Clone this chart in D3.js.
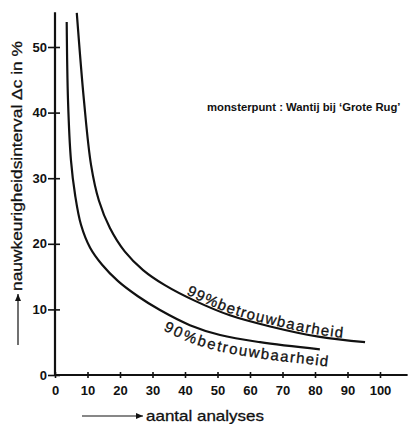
<!DOCTYPE html>
<html>
<head>
  <meta charset="utf-8">
  <title>Nauwkeurigheidsinterval</title>
  <style>
    body { margin: 0; background: #fff; }
    svg { display: block; font-family: "Liberation Sans", Arial, sans-serif; }
    .tick text { font-weight: bold; font-size: 13px; fill: #111; }
    .tick line { stroke: #111; stroke-width: 1.6; }
  </style>
</head>
<body>
  <svg id="chart"></svg>

  <script src="https://d3js.org/d3.v7.min.js"></script>
  <script>
    const curve90 = [[3.6, 53.8], [4.0, 41.9], [4.9, 32.8], [6.2, 27.4], [8.0, 22.9], [10.8, 19.4],
                     [14.5, 16.8], [19.4, 14.3], [25.5, 12.0], [32.3, 9.9], [41.5, 7.6], [50.8, 6.1],
                     [63.1, 5.0], [81.5, 3.9]];
    const curve99 = [[6.7, 55.2], [8.9, 41.9], [11.1, 32.0], [13.5, 26.6], [16.9, 22.4], [21.5, 18.8],
                     [27.1, 16.0], [33.8, 13.7], [43.1, 11.3], [53.8, 9.1], [66.2, 7.4], [81.5, 5.8],
                     [95.4, 5.0]];
    const xTicks = [0, 10, 20, 30, 40, 50, 60, 70, 80, 90, 100];
    const yTicks = [0, 10, 20, 30, 40, 50];
    const labels = ["90%betrouwbaarheid", "99%betrouwbaarheid"];

    const width = 411;
    const height = 424;

    const svg = d3.select("#chart")
      .attr("width", width)
      .attr("height", height);

    // schalen
    const x = d3.scaleLinear().domain([0, 100]).range([55, 380]);
    const y = d3.scaleLinear().domain([0, 50]).range([375, 47]);

    // assen
    svg.append("line")
      .attr("x1", x(0)).attr("x2", x(0))
      .attr("y1", y(0) + 1).attr("y2", y(55.3))
      .attr("stroke", "#111").attr("stroke-width", 2.2);
    svg.append("line")
      .attr("x1", x(0) - 1).attr("x2", x(108.5))
      .attr("y1", y(0)).attr("y2", y(0))
      .attr("stroke", "#111").attr("stroke-width", 2.2);

    const gy = svg.append("g")
      .attr("transform", `translate(${x(0)},0)`)
      .call(d3.axisLeft(y).tickValues(yTicks).tickSizeOuter(0));
    gy.select(".domain").remove();
    gy.selectAll(".tick line").attr("x1", -7).attr("x2", 5);
    gy.selectAll(".tick text").attr("x", -8);

    const gx = svg.append("g")
      .attr("transform", `translate(0,${y(0)})`)
      .call(d3.axisBottom(x).tickValues(xTicks).tickSizeOuter(0));
    gx.select(".domain").remove();
    gx.selectAll(".tick line").attr("y1", -3).attr("y2", 3);
    gx.selectAll(".tick text").attr("y", 11);

    // curves
    const line = d3.line()
      .x(d => x(d[0]))
      .y(d => y(d[1]))
      .curve(d3.curveCatmullRom.alpha(0.5));

    [curve90, curve99].forEach(c => {
      svg.append("path")
        .attr("d", line(c))
        .attr("fill", "none")
        .attr("stroke", "#111")
        .attr("stroke-width", 2.2);
    });

    // hulppaden voor de labels (curve iets doorgetrokken)
    function extend(c) {
      const a = c[c.length - 2], b = c[c.length - 1];
      return c.concat([[b[0] + (b[0] - a[0]), b[1] + (b[1] - a[1])]]);
    }
    const defs = svg.append("defs");
    const guides = [extend(curve90), extend(curve99)];
    const starts = [35.5, 40];
    const offsets = [16, -2];

    guides.forEach((g, i) => {
      const p = defs.append("path")
        .attr("id", "guide" + i)
        .attr("d", line(g));
      const node = p.node();
      // zoek lengte langs pad waar het label begint
      let lo = 0, hi = node.getTotalLength();
      for (let k = 0; k < 30; k++) {
        const mid = (lo + hi) / 2;
        if (node.getPointAtLength(mid).x < x(starts[i])) lo = mid; else hi = mid;
      }
      svg.append("text")
        .attr("dy", offsets[i])
        .style("font-size", "15px")
        .style("letter-spacing", "1.3px")
        .attr("fill", "#111")
        .attr("stroke", "#111")
        .attr("stroke-width", 0.3)
        .append("textPath")
        .attr("href", "#guide" + i)
        .attr("startOffset", lo)
        .text(labels[i]);
    });

    // annotatie
    svg.append("text")
      .attr("x", 207).attr("y", 111)
      .style("font-size", "11.3px")
      .style("font-weight", "bold")
      .attr("fill", "#111")
      .text("monsterpunt : Wantij bij \u2018Grote Rug\u2019");

    // as-titels met pijlen
    function arrow(x1, y1, x2, y2) {
      svg.append("line")
        .attr("x1", x1).attr("y1", y1).attr("x2", x2).attr("y2", y2)
        .attr("stroke", "#111").attr("stroke-width", 1.2);
      const ang = Math.atan2(y2 - y1, x2 - x1);
      const len = 7, w = 3;
      const pts = [
        [x2, y2],
        [x2 - len * Math.cos(ang) + w * Math.sin(ang), y2 - len * Math.sin(ang) - w * Math.cos(ang)],
        [x2 - len * Math.cos(ang) - w * Math.sin(ang), y2 - len * Math.sin(ang) + w * Math.cos(ang)]
      ];
      svg.append("polygon").attr("points", pts.map(p => p.join(",")).join(" ")).attr("fill", "#111");
    }

    arrow(18, 345, 18, 294);
    svg.append("text")
      .attr("transform", "translate(22,291) rotate(-90)")
      .attr("textLength", 250)
      .attr("lengthAdjust", "spacingAndGlyphs")
      .style("font-size", "15px")
      .attr("fill", "#111")
      .attr("stroke", "#111")
      .attr("stroke-width", 0.3)
      .text("nauwkeurigheidsinterval \u0394c in %");

    arrow(82, 416, 143, 416);
    svg.append("text")
      .attr("x", 146).attr("y", 421)
      .attr("textLength", 118)
      .attr("lengthAdjust", "spacingAndGlyphs")
      .style("font-size", "15px")
      .attr("fill", "#111")
      .attr("stroke", "#111")
      .attr("stroke-width", 0.3)
      .text("aantal analyses");
  </script>
</body>
</html>
